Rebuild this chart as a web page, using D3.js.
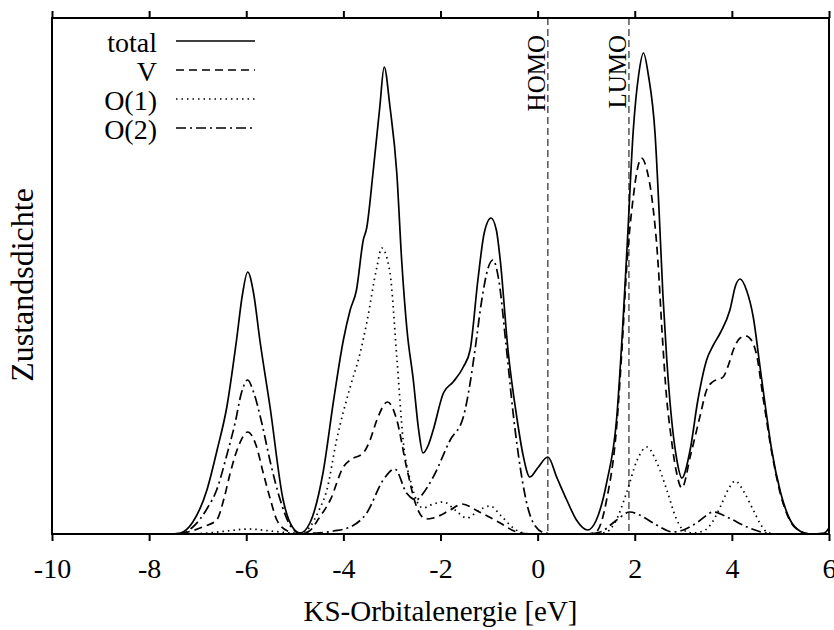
<!DOCTYPE html>
<html>
<head>
<meta charset="utf-8">
<script src="https://cdn.jsdelivr.net/npm/d3@7"></script>
<style>
  body { margin: 0; background: #fff; }
  svg { font-family: "Liberation Serif", "Times New Roman", serif; }
</style>
</head>
<body>
<svg id="dos-chart"></svg>
<script>
// Energies (eV) and density values
const totalE = [-10, -7.6, -7.36, -7.1, -6.81, -6.6, -6.4, -6.2, -6.08, -5.97, -5.85, -5.72, -5.51, -5.24, -5.05, -4.89,
  -4.69, -4.42, -4.2, -4.0, -3.86, -3.73, -3.59, -3.52, -3.39, -3.25, -3.16, -3.04, -2.9, -2.8, -2.69, -2.56, -2.45,
  -2.36, -2.25, -2.15, -1.94, -1.74, -1.53, -1.39, -1.23, -1.1, -0.96, -0.85, -0.77, -0.61, -0.43, -0.3, -0.16, 0.0,
  0.21, 0.4, 0.6, 0.8, 1.03, 1.2, 1.42, 1.63, 1.76, 1.85, 1.97, 2.08, 2.18, 2.28, 2.42, 2.5, 2.58, 2.66, 2.75, 2.86,
  2.97, 3.14, 3.3, 3.48, 3.62, 3.76, 3.96, 4.08, 4.17, 4.3, 4.44, 4.58, 4.7, 4.82, 5.0, 5.2, 5.4, 5.6, 5.9, 6.0];
const totalDos = [0, 0, 0.01, 0.12, 0.44, 0.84, 1.27, 1.94, 2.39, 2.62, 2.41, 1.94, 1.27, 0.34, 0.07, 0.01,
  0.11, 0.61, 1.34, 1.94, 2.24, 2.44, 2.94, 3.06, 3.61, 4.27, 4.67, 4.27, 3.61, 2.74, 2.04, 1.54, 1.04,
  0.81, 0.89, 1.04, 1.41, 1.52, 1.67, 1.84, 2.54, 3.01, 3.16, 3.04, 2.74, 1.84, 1.17, 0.79, 0.57, 0.66,
  0.77, 0.56, 0.34, 0.14, 0.04, 0.13, 0.51, 1.17, 2.14, 2.94, 4.04, 4.59, 4.81, 4.59, 3.99, 3.24, 2.39, 1.74, 1.19, 0.76,
  0.56, 0.84, 1.34, 1.74, 1.89, 2.01, 2.24, 2.49, 2.55, 2.44, 2.17, 1.67, 1.24, 0.84, 0.42, 0.14, 0.03, 0, 0.01, 0.06];

const vE = [-10, -7.5, -7.2, -6.9, -6.61, -6.45, -6.33, -6.15, -5.97, -5.8, -5.65, -5.5, -5.37, -5.15, -4.9,
  -4.7, -4.5, -4.27, -4.0, -3.86, -3.59, -3.45, -3.31, -3.09, -2.9, -2.7, -2.49, -2.3, -2.15, -1.8, -1.56, -1.2,
  -0.77, -0.43, -0.1, 1.0, 1.2, 1.42, 1.63, 1.76, 1.83, 1.97, 2.05, 2.14, 2.25, 2.35, 2.48, 2.56, 2.66, 2.73,
  2.85, 2.97, 3.15, 3.34, 3.48, 3.6, 3.82, 3.93, 4.03, 4.17, 4.29, 4.4, 4.51, 4.65, 4.82, 5.0, 5.2, 5.4, 5.6, 6.0];
const vDos = [0, 0, 0.02, 0.07, 0.14, 0.37, 0.61, 0.89, 1.02, 0.89, 0.61, 0.34, 0.14, 0.03, 0,
  0.03, 0.16, 0.34, 0.67, 0.74, 0.81, 0.94, 1.14, 1.32, 1.14, 0.67, 0.27, 0.15, 0.16, 0.24, 0.30, 0.22,
  0.11, 0.02, 0, 0, 0.02, 0.34, 1.09, 2.04, 2.64, 3.37, 3.64, 3.76, 3.64, 3.37, 2.71, 2.04, 1.34, 1.04,
  0.64, 0.46, 0.79, 1.17, 1.44, 1.52, 1.57, 1.69, 1.84, 1.96, 1.98, 1.94, 1.79, 1.34, 0.82, 0.40, 0.13, 0.03, 0, 0];

const o1E = [-10, -7.2, -6.8, -6.4, -5.95, -5.5, -5.1, -4.9, -4.69, -4.5, -4.34, -4.14, -3.86, -3.66, -3.52,
  -3.31, -3.21, -3.04, -2.9, -2.77, -2.6, -2.36, -2.15, -1.94, -1.7, -1.46, -1.2, -0.98, -0.75, -0.5, -0.3, -0.1,
  1.2, 1.42, 1.6, 1.83, 2.05, 2.25, 2.45, 2.66, 2.85, 3.0, 3.2, 3.45, 3.6, 3.76, 3.92, 4.07, 4.25, 4.44, 4.6,
  4.72, 4.9, 6.0];
const o1Dos = [0, 0, 0.01, 0.03, 0.05, 0.03, 0.01, 0, 0.07, 0.24, 0.44, 0.94, 1.47, 1.80, 2.11,
  2.67, 2.86, 2.61, 1.77, 0.94, 0.50, 0.26, 0.30, 0.32, 0.24, 0.16, 0.24, 0.28, 0.18, 0.06, 0.01, 0,
  0, 0.02, 0.12, 0.41, 0.74, 0.87, 0.72, 0.44, 0.16, 0.04, 0.01, 0.04, 0.12, 0.27, 0.44, 0.53, 0.42, 0.24, 0.09,
  0.02, 0, 0];

const o2E = [-10, -7.4, -7.1, -6.8, -6.61, -6.4, -6.23, -6.1, -5.97, -5.85, -5.68, -5.5, -5.3, -5.1, -4.9,
  -4.55, -4.2, -3.86, -3.52, -3.18, -2.94, -2.7, -2.49, -2.42, -2.15, -1.8, -1.53, -1.39, -1.29, -1.15, -1.02,
  -0.92, -0.8, -0.65, -0.5, -0.35, -0.2, -0.05, 0.15, 0.4, 1.0, 1.29, 1.63, 1.9, 2.1, 2.38, 2.79, 3.0, 3.3,
  3.62, 3.9, 4.31, 4.6, 4.9, 6.0];
const o2Dos = [0, 0, 0.07, 0.26, 0.44, 0.79, 1.11, 1.41, 1.54, 1.42, 1.11, 0.71, 0.34, 0.09, 0.01,
  0.01, 0.03, 0.07, 0.21, 0.54, 0.65, 0.41, 0.34, 0.37, 0.57, 0.94, 1.17, 1.51, 1.84, 2.34, 2.66,
  2.74, 2.54, 1.89, 1.19, 0.64, 0.26, 0.08, 0.01, 0, 0, 0.02, 0.14, 0.22, 0.19, 0.11, 0.02, 0.04, 0.12,
  0.22, 0.17, 0.07, 0.02, 0, 0];

// HOMO / LUMO positions (eV)
const markerNames = ["HOMO", "LUMO"];
const markerE = [0.21, 1.88];

// Axis ticks
const xTicks = [-10, -8, -6, -4, -2, 0, 2, 4, 6];

// Series table for legend and drawing
const seriesNames = ["total", "V", "O(1)", "O(2)"];
const seriesE = [totalE, vE, o1E, o2E];
const seriesDos = [totalDos, vDos, o1Dos, o2Dos];
const seriesDash = [null, "8,5", "1.5,4", "10,4,2,4"];

const W = 834, H = 630;
const svg = d3.select("#dos-chart").attr("width", W).attr("height", H);

// Plot area
const plotLeft = 52, plotRight = 829, plotTop = 18, plotBottom = 534;

const x = d3.scaleLinear().domain([-10, 6]).range([plotLeft, plotRight]);
const y = d3.scaleLinear().domain([0, 5.16]).range([plotBottom, plotTop]);

// Clip to frame
svg.append("clipPath").attr("id", "clip")
  .append("rect")
  .attr("x", plotLeft).attr("y", plotTop)
  .attr("width", plotRight - plotLeft).attr("height", plotBottom - plotTop);

// HOMO/LUMO vertical lines
markerE.forEach((e, i) => {
  svg.append("line")
    .attr("x1", x(e)).attr("x2", x(e))
    .attr("y1", y(5.16)).attr("y2", y(0))
    .attr("stroke", "#555")
    .attr("stroke-width", 1.5)
    .attr("stroke-dasharray", "7,4");

  svg.append("text")
    .attr("transform", `translate(${x(e) - 3},35) rotate(-90)`)
    .attr("text-anchor", "end")
    .style("font-size", "25px")
    .text(markerNames[i]);
});

// Curves
const line = d3.line()
  .x(d => x(d[0]))
  .y(d => y(d[1]))
  .curve(d3.curveMonotoneX);

seriesNames.forEach((name, i) => {
  const pts = seriesE[i].map((e, j) => [e, seriesDos[i][j]]);
  const path = svg.append("path")
    .datum(pts)
    .attr("clip-path", "url(#clip)")
    .attr("fill", "none")
    .attr("stroke", "#000")
    .attr("stroke-width", 1.7)
    .attr("d", line);
  if (seriesDash[i]) path.attr("stroke-dasharray", seriesDash[i]);
});

// Axes (bottom and top ticks outward)
const xAxis = svg.append("g")
  .attr("transform", `translate(0,${plotBottom})`)
  .call(d3.axisBottom(x).tickValues(xTicks).tickSize(7).tickPadding(17).tickFormat(d3.format("d")));
xAxis.select(".domain").remove();
xAxis.selectAll("line").attr("stroke-width", 2);
xAxis.selectAll("text")
  .style("font-family", "Liberation Serif, serif")
  .style("font-size", "28px")
  .attr("fill", "#000")
  .text(d => String(d));

const xAxisTop = svg.append("g")
  .attr("transform", `translate(0,${plotTop})`)
  .call(d3.axisTop(x).tickValues(xTicks).tickSize(7).tickFormat(""));
xAxisTop.select(".domain").remove();
xAxisTop.selectAll("line").attr("stroke-width", 2);

// Frame
svg.append("rect")
  .attr("x", plotLeft).attr("y", plotTop)
  .attr("width", plotRight - plotLeft).attr("height", plotBottom - plotTop)
  .attr("fill", "none")
  .attr("stroke", "#000")
  .attr("stroke-width", 2);

// Axis titles
svg.append("text")
  .attr("x", (plotLeft + plotRight) / 2)
  .attr("y", 621)
  .attr("text-anchor", "middle")
  .style("font-size", "29px")
  .text("KS-Orbitalenergie [eV]");

svg.append("text")
  .attr("transform", "translate(33,285) rotate(-90)")
  .attr("text-anchor", "middle")
  .style("font-size", "32px")
  .text("Zustandsdichte");

// Legend
const legend = svg.append("g").attr("class", "legend");
seriesNames.forEach((name, i) => {
  const by = 52 + i * 29;
  legend.append("text")
    .attr("x", 157)
    .attr("y", by)
    .attr("text-anchor", "end")
    .style("font-size", "28px")
    .text(name);
  const l = legend.append("line")
    .attr("x1", 176).attr("x2", 255)
    .attr("y1", by - 11).attr("y2", by - 11)
    .attr("stroke", "#000")
    .attr("stroke-width", 1.7);
  if (seriesDash[i]) l.attr("stroke-dasharray", seriesDash[i]);
});
</script>
</body>
</html>
